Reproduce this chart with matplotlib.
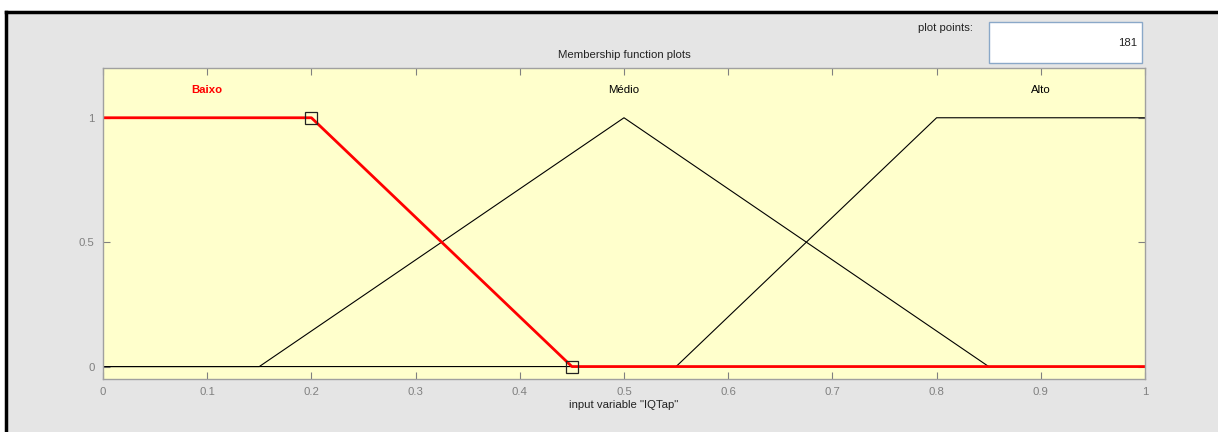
import numpy as np
import matplotlib.pyplot as plt
from matplotlib.patches import Rectangle
from matplotlib.lines import Line2D

# membership function parameters for input variable "IQTap"
mf_names = ['Baixo', 'Médio', 'Alto']
baixo_x = [0.0, 0.0, 0.2, 0.45, 1.0]
baixo_y = [1.0, 1.0, 1.0, 0.0, 0.0]
medio_x = [0.0, 0.15, 0.5, 0.85, 1.0]
medio_y = [0.0, 0.0, 1.0, 0.0, 0.0]
alto_x = [0.0, 0.55, 0.8, 1.0]
alto_y = [0.0, 0.0, 1.0, 1.0]
label_x = [0.1, 0.5, 0.9]
label_y = 1.11
marker_x = [0.2, 0.45]
marker_y = [1.0, 0.0]
x_ticks = np.round(np.arange(0, 1.01, 0.1), 1)
y_ticks = [0, 0.5, 1]
n_points = 181

bg = '#e5e5e5'
tick_col = '#808080'
fs = 8.2

fig = plt.figure(figsize=(12.18, 4.32), dpi=100, facecolor=bg)
plt.rcParams['font.family'] = ['Liberation Sans', 'DejaVu Sans']

ax = fig.add_axes([103/1218, 1 - 379/432, 1042/1218, 311/432])
ax.set_facecolor('#ffffcc')

ax.plot(medio_x, medio_y, color='black', lw=0.8)
ax.plot(alto_x, alto_y, color='black', lw=0.8)
ax.plot(baixo_x, baixo_y, color='red', lw=2)
ax.plot(marker_x, marker_y, linestyle='none', marker='s', markersize=9,
        markerfacecolor='none', markeredgecolor='#222222', markeredgewidth=0.9)

for name, lx in zip(mf_names, label_x):
    if name == 'Baixo':
        ax.text(lx, label_y, name, ha='center', va='center', color='red',
                fontsize=fs, fontweight='bold')
    else:
        ax.text(lx, label_y, name, ha='center', va='center', color='black',
                fontsize=fs)

ax.set_xlim(0, 1)
ax.set_ylim(-0.05, 1.2)
ax.set_xticks(x_ticks)
ax.set_xticklabels([f'{t:g}' for t in x_ticks])
ax.set_yticks(y_ticks)
ax.set_yticklabels(['0', '0.5', '1'])
ax.tick_params(direction='in', length=5, width=0.8, colors=tick_col,
               labelsize=fs, top=True, right=True, pad=6)
for s in ax.spines.values():
    s.set_color('#a0a0a0')
    s.set_linewidth(1)

ax.set_xlabel('input variable "IQTap"', fontsize=fs, color='#222222', labelpad=2)
ax.set_title('Membership function plots', fontsize=fs, color='#222222', pad=7)

# plot points box
fig.text(973/1218, 1 - 28/432, 'plot points:', ha='right', va='center',
         fontsize=fs, color='#222222')
fig.patches.append(Rectangle((989/1218, 1 - 63/432), 153/1218, 41/432,
                             transform=fig.transFigure, facecolor='white',
                             edgecolor='#8aa8c8', lw=1))
fig.text(1137/1218, 1 - 43/432, str(n_points), ha='right', va='center',
         fontsize=fs, color='#222222')

# window border
fig.lines.append(Line2D([6/1218, 1], [1 - 12/432, 1 - 12/432],
                        transform=fig.transFigure, color='black', lw=2.5))
fig.lines.append(Line2D([6/1218, 6/1218], [0, 1 - 12/432],
                        transform=fig.transFigure, color='black', lw=2.5))
fig.patches.append(Rectangle((0, 1 - 11/432), 1, 11/432, transform=fig.transFigure,
                             facecolor='white', edgecolor='none', zorder=-1))
fig.patches.append(Rectangle((0, 0), 6/1218, 1, transform=fig.transFigure,
                             facecolor='white', edgecolor='none', zorder=-1))

fig.savefig('out.png', dpi=100, facecolor=bg)
